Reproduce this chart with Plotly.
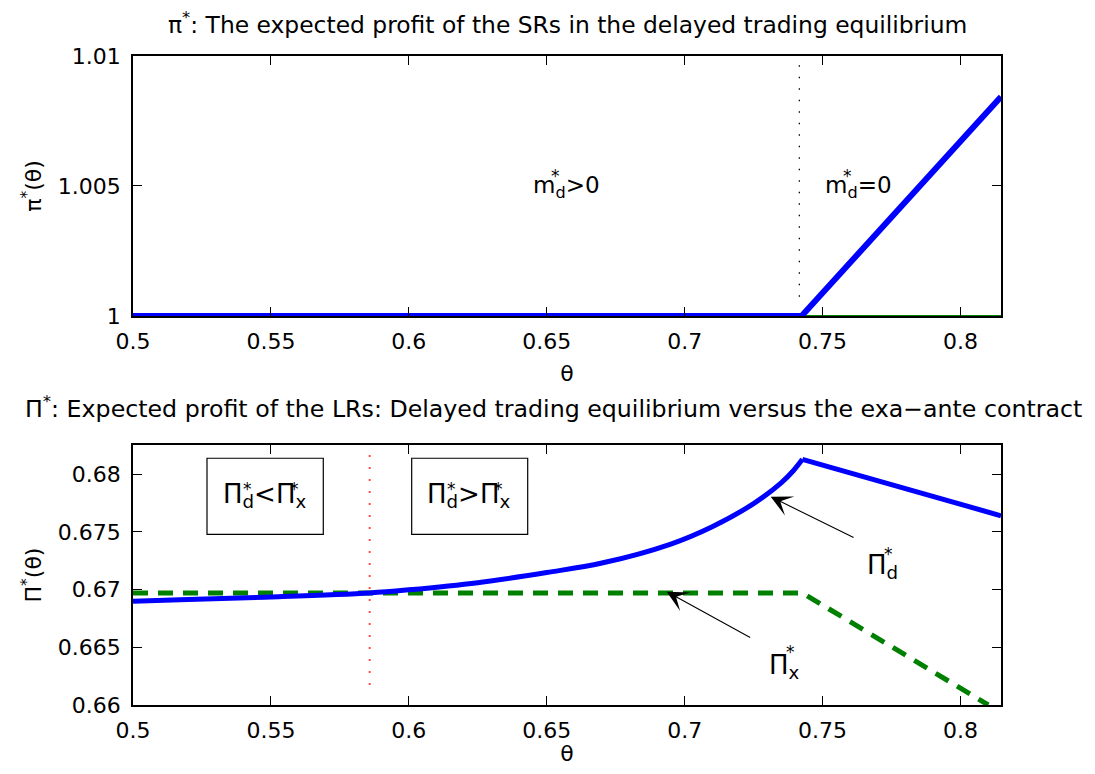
import plotly.graph_objects as go

# ---------------- data ----------------
theta_sr = [0.5, 0.7424, 0.8147]
pi_sr = [1.0, 1.0, 1.00843]
theta_sr_base = [0.5, 0.8147]
pi_sr_base = [1.0, 1.0]

theta_d_curve = [0.5, 0.52, 0.55, 0.5858, 0.60, 0.625, 0.65, 0.67, 0.695,
                 0.71, 0.725, 0.735, 0.7394, 0.7427]
Pi_d_curve = [0.66899, 0.66914, 0.66936, 0.66971, 0.66998, 0.67060, 0.67148,
              0.67230, 0.67395, 0.67545, 0.67745, 0.67925, 0.68030, 0.68129]
theta_d_line = [0.7427, 0.8147]
Pi_d_line = [0.68129, 0.67640]
theta_x = [0.5, 0.7427, 0.8101]
Pi_x = [0.66971, 0.66971, 0.66]

theta_cut_sr = 0.7416
theta_cut_lr = 0.5858

x_ticks = [0.5, 0.55, 0.6, 0.65, 0.7, 0.75, 0.8]
x_ticktext = ["0.5", "0.55", "0.6", "0.65", "0.7", "0.75", "0.8"]
y1_ticks = [1.0, 1.005, 1.01]
y1_ticktext = ["1", "1.005", "1.01"]
y2_ticks = [0.66, 0.665, 0.67, 0.675, 0.68]
y2_ticktext = ["0.66", "0.665", "0.67", "0.675", "0.68"]

FONT = "DejaVu Sans"
BLUE = "#0000ff"
GREEN = "#008000"

fig = go.Figure()

# top panel
fig.add_trace(go.Scatter(x=theta_sr_base, y=pi_sr_base, mode="lines",
                         line=dict(color=GREEN, width=2), xaxis="x", yaxis="y",
                         showlegend=False, hoverinfo="skip"))
fig.add_trace(go.Scatter(x=theta_sr, y=pi_sr, mode="lines",
                         line=dict(color=BLUE, width=6), xaxis="x", yaxis="y",
                         showlegend=False))

# bottom panel
fig.add_trace(go.Scatter(x=theta_x, y=Pi_x, mode="lines",
                         line=dict(color=GREEN, width=5, dash="15px,10px"),
                         xaxis="x2", yaxis="y2", showlegend=False))
fig.add_trace(go.Scatter(x=theta_d_curve, y=Pi_d_curve, mode="lines",
                         line=dict(color=BLUE, width=5, shape="spline", smoothing=1.0),
                         xaxis="x2", yaxis="y2", showlegend=False))
fig.add_trace(go.Scatter(x=theta_d_line, y=Pi_d_line, mode="lines",
                         line=dict(color=BLUE, width=5),
                         xaxis="x2", yaxis="y2", showlegend=False))

axis_common = dict(showline=True, linecolor="black", linewidth=1.5, mirror="allticks",
                   ticks="inside", ticklen=9, tickwidth=1, tickcolor="black",
                   showgrid=False, zeroline=False, automargin=False,
                   tickfont=dict(family=FONT, size=22, color="black"))

xa = dict(axis_common, range=[0.5, 0.8147], tickvals=x_ticks, ticktext=x_ticktext,
          ticklabelstandoff=5,
          title=dict(text="θ", font=dict(family=FONT, size=22, color="black"), standoff=12))

fig.update_layout(
    template="none",
    width=1079, height=758,
    margin=dict(l=125, r=86, t=32, b=32, autoexpand=False),
    paper_bgcolor="white", plot_bgcolor="white",
    font=dict(family=FONT, color="black"),
    xaxis=dict(xa, domain=[0, 1], anchor="y"),
    yaxis=dict(axis_common, domain=[0.60231, 0.97695], range=[1.0, 1.01],
               tickvals=y1_ticks, ticktext=y1_ticktext, anchor="x", ticklabelstandoff=6,
               title=dict(text="π<sup>*</sup>(θ)", font=dict(family=FONT, size=22, color="black"),
                          standoff=10)),
    xaxis2=dict(xa, domain=[0, 1], anchor="y2"),
    yaxis2=dict(axis_common, domain=[0.041787, 0.41643], range=[0.66, 0.68253],
                tickvals=y2_ticks, ticktext=y2_ticktext, anchor="x2", ticklabelstandoff=6,
                title=dict(text="Π<sup>*</sup>(θ)", font=dict(family=FONT, size=22, color="black"),
                           standoff=10)),
)

shapes = [
    dict(type="line", xref="x", yref="y", x0=theta_cut_sr, x1=theta_cut_sr,
         y0=1.00074, y1=1.01, line=dict(color="black", width=1.3, dash="1.5px,10px")),
    dict(type="line", xref="x2", yref="y2", x0=theta_cut_lr, x1=theta_cut_lr,
         y0=0.66173, y1=0.68253, line=dict(color="#ff4d4d", width=2, dash="2px,10px")),
    dict(type="rect", xref="x2", yref="y2", x0=0.52683, x1=0.56899, y0=0.67479, y1=0.68138,
         line=dict(color="black", width=1.2), fillcolor="rgba(0,0,0,0)"),
    dict(type="rect", xref="x2", yref="y2", x0=0.60104, x1=0.64310, y0=0.67479, y1=0.68138,
         line=dict(color="black", width=1.2), fillcolor="rgba(0,0,0,0)"),
]
fig.update_layout(shapes=shapes)

ann = []
def txt(x, y, text, size=25, xref="x2", yref="y2", xanchor="left", yanchor="middle", yshift=-4):
    ann.append(dict(x=x, y=y, xref=xref, yref=yref, text=text, showarrow=False,
                    xanchor=xanchor, yanchor=yanchor, yshift=yshift,
                    font=dict(family=FONT, size=size, color="black")))

def star(x, y, xref="x2", yref="y2"):
    ann.append(dict(x=x, y=y, xref=xref, yref=yref, text="*", showarrow=False,
                    xanchor="center", yanchor="middle", yshift=-6,
                    font=dict(family=FONT, size=17, color="black")))

# titles
ann.append(dict(x=0.5, y=1.02594, xref="paper", yref="paper", showarrow=False, yshift=-2,
                text="π<sup>*</sup>: The expected profit of the SRs in the delayed trading equilibrium",
                xanchor="center", yanchor="middle", font=dict(family=FONT, size=23.4, color="black")))
ann.append(dict(x=0.4844, y=0.47118, xref="paper", yref="paper", showarrow=False,
                text="Π<sup>*</sup>: Expected profit of the LRs: Delayed trading equilibrium versus the exa−ante contract",
                xanchor="center", yanchor="middle", font=dict(family=FONT, size=23.7, color="black")))

# top panel labels
txt(0.6443, 1.00497, "m<sub>d</sub>&gt;0", size=23, xref="x", yref="y", yshift=0)
star(0.6531, 1.00562, xref="x", yref="y")
txt(0.75028, 1.00497, "m<sub>d</sub>=0", size=23, xref="x", yref="y", yshift=0)
star(0.7590, 1.00562, xref="x", yref="y")

# boxes text
txt(0.53180, 0.67848, "Π<sub>d</sub>&lt;Π<sub>x</sub>", size=26)
star(0.54159, 0.67926)
star(0.55848, 0.67926)
txt(0.60587, 0.67848, "Π<sub>d</sub>&gt;Π<sub>x</sub>", size=26)
star(0.61555, 0.67926)
star(0.63245, 0.67926)

# curve labels
txt(0.76539, 0.67239, "Π<sub>d</sub>", size=26)
star(0.77384, 0.67363)
txt(0.72976, 0.66368, "Π<sub>x</sub>", size=26)
star(0.73820, 0.66514)

# arrows
ann.append(dict(x=0.7312, y=0.67805, ax=0.7618, ay=0.67445, xref="x2", yref="y2",
                axref="x2", ayref="y2", text="", showarrow=True, arrowhead=3,
                arrowsize=3.2, arrowwidth=1.1, arrowcolor="black"))
ann.append(dict(x=0.6935, y=0.66982, ax=0.7243, ay=0.66578, xref="x2", yref="y2",
                axref="x2", ayref="y2", text="", showarrow=True, arrowhead=3,
                arrowsize=3.2, arrowwidth=1.1, arrowcolor="black"))

fig.update_layout(annotations=ann)

fig.write_html("out.html")
